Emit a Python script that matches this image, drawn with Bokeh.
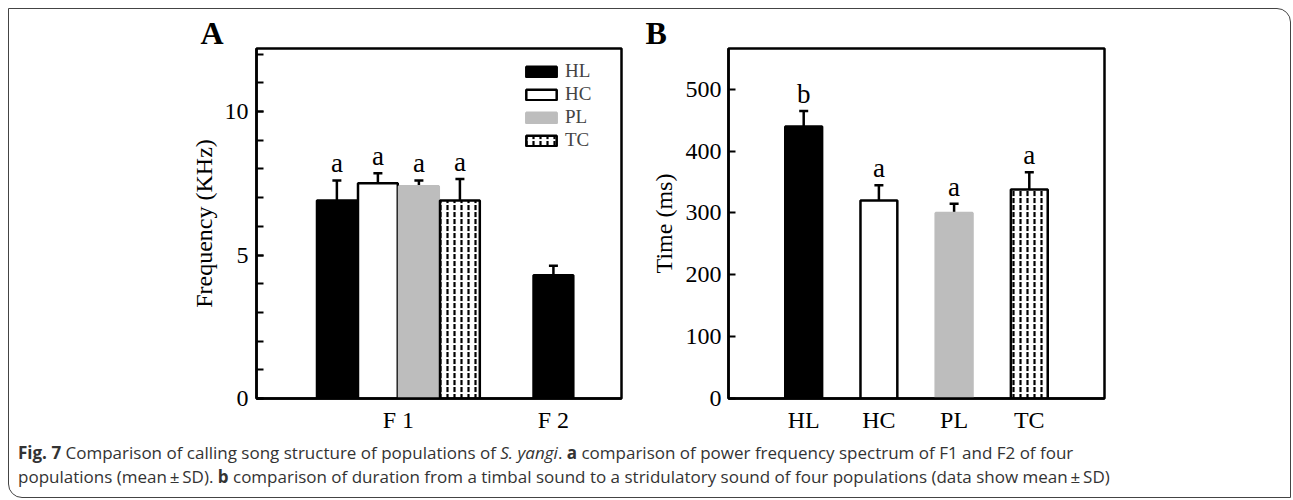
from bokeh.plotting import figure
from bokeh.models import (ColumnDataSource, Whisker, TeeHead, Range1d, FactorRange,
                          SingleIntervalTicker, FixedTicker, Div, Legend, LegendItem)
from bokeh.layouts import row, column
from bokeh.core.properties import value
from bokeh.embed import file_html
from bokeh.resources import INLINE

# ---------------- data ----------------
populations = ["HL", "HC", "PL", "TC"]
freq_groups = ["F 1", "F 2"]
f1_mean = [6.9, 7.5, 7.4, 6.9]
f1_sd = [0.7, 0.35, 0.2, 0.75]
f1_letters = ["a", "a", "a", "a"]
f2_mean = [4.3]            # only HL
f2_sd = [0.33]
time_mean = [440, 320, 300, 338]
time_sd = [25, 25, 15, 28]
time_letters = ["b", "a", "a", "a"]

# ---------------- styles ----------------
SERIF = "Liberation Serif"
fills = {"HL": "black", "HC": "white", "PL": "#bdbdbd", "TC": "white"}
lines = {"HL": "black", "HC": "black", "PL": "#bdbdbd", "TC": "black"}
hatches = {"HL": " ", "HC": " ", "PL": " ", "TC": "vertical_dash"}
LW = 2.5
BAR_W = 1.0
group_center = {"F 1": 3.46, "F 2": 7.24}
LETTER_OFFSET = -17


def style_fig(p, label, offset):
    p.toolbar_location = None
    p.xgrid.visible = False
    p.ygrid.visible = False
    p.outline_line_color = "black"
    p.outline_line_width = LW
    p.outline_line_alpha = 1
    p.background_fill_color = "white"
    p.border_fill_color = "white"
    for ax in (p.xaxis[0], p.yaxis[0]):
        ax.axis_line_width = LW
        ax.axis_line_color = "black"
        ax.major_label_text_font = SERIF
        ax.major_label_text_font_size = "24px"
        ax.major_label_text_color = "black"
        ax.axis_label_text_font = SERIF
        ax.axis_label_text_font_size = "24px"
        ax.axis_label_text_font_style = "normal"
        ax.axis_label_text_color = "black"
    p.xaxis.major_tick_in = 0
    p.xaxis.major_tick_out = 0
    p.xaxis.minor_tick_in = 0
    p.xaxis.minor_tick_out = 0
    p.yaxis.major_tick_in = 7
    p.yaxis.major_tick_out = 0
    p.yaxis.minor_tick_in = 7
    p.yaxis.minor_tick_out = 0
    p.yaxis.major_tick_line_width = 2
    p.yaxis.minor_tick_line_width = 2
    p.title.text = label
    p.title.text_font = SERIF
    p.title.text_font_size = "32px"
    p.title.text_font_style = "bold"
    p.title.text_color = "black"
    p.title.align = "left"
    p.title.offset = offset
    p.title.standoff = -5


# ---------------- panel A ----------------
pA = figure(width=615, height=431, output_backend="svg", toolbar_location=None,
            x_range=Range1d(0, 8.9), y_range=Range1d(0, 12.2),
            min_border_left=247, min_border_right=3, min_border_top=39, min_border_bottom=42)
style_fig(pA, "A", -56)

legend_items = []
for i, pop in enumerate(populations):
    xs = [group_center["F 1"] + (i - 1.5) * BAR_W]
    ms = [f1_mean[i]]
    sds = [f1_sd[i]]
    lets = [f1_letters[i]]
    if pop == "HL":
        xs.append(group_center["F 2"])
        ms.append(f2_mean[0])
        sds.append(f2_sd[0])
        lets.append("")
    src = ColumnDataSource(dict(x=xs, top=ms,
                                upper=[m + s for m, s in zip(ms, sds)],
                                lower=[m - s for m, s in zip(ms, sds)],
                                letter=lets))
    r = pA.vbar(x="x", top="top", width=BAR_W * 0.97, bottom=0, source=src,
                fill_color=fills[pop], line_color=lines[pop], line_width=LW,
                hatch_pattern=hatches[pop], hatch_color="black", hatch_scale=7,
                hatch_weight=2.2)
    legend_items.append(LegendItem(label=pop, renderers=[r]))
    w = Whisker(source=src, base="x", upper="upper", lower="lower",
                line_width=LW, line_color="black",
                upper_head=TeeHead(size=9, line_width=LW, line_color="black"),
                lower_head=TeeHead(size=9, line_width=LW, line_color="black"))
    pA.add_layout(w)
    pA.text(x="x", y="upper", text="letter", source=src, text_align="center",
            text_baseline="alphabetic", y_offset=LETTER_OFFSET, text_font=value(SERIF),
            text_font_size="27px", text_color="black")

legA = Legend(items=legend_items, location=(266, 247), orientation="vertical",
              padding=0, margin=0, spacing=1, glyph_width=38, glyph_height=13,
              label_height=20, label_standoff=5, label_text_font=SERIF,
              label_text_font_size="19px", border_line_alpha=0,
              background_fill_alpha=0)
pA.add_layout(legA)

pA.yaxis.ticker = SingleIntervalTicker(interval=5, num_minor_ticks=5)
pA.yaxis.axis_label = "Frequency (KHz)"
pA.yaxis.major_label_standoff = 8
pA.yaxis.axis_label_standoff = 5
pA.xaxis.ticker = FixedTicker(ticks=[group_center[g] for g in freq_groups])
pA.xaxis.major_label_overrides = {group_center[g]: g for g in freq_groups}
pA.xaxis.major_label_standoff = 8

# ---------------- panel B ----------------
pB = figure(width=496, height=431, output_backend="svg", toolbar_location=None,
            x_range=FactorRange(factors=populations, range_padding=0.5,
                                range_padding_units="absolute"),
            y_range=Range1d(0, 566),
            min_border_left=104, min_border_right=16, min_border_top=39, min_border_bottom=42)
style_fig(pB, "B", -83)

srcB = ColumnDataSource(dict(
    x=populations, top=time_mean,
    upper=[m + s for m, s in zip(time_mean, time_sd)],
    lower=[m - s for m, s in zip(time_mean, time_sd)],
    letter=time_letters,
    fill=[fills[p] for p in populations],
    line=[lines[p] for p in populations],
    hatch=[hatches[p] for p in populations]))
pB.vbar(x="x", top="top", width=0.49, bottom=0, source=srcB,
        fill_color="fill", line_color="line", line_width=LW,
        hatch_pattern="hatch", hatch_color="black", hatch_scale=7, hatch_weight=2.2)
pB.add_layout(Whisker(source=srcB, base="x", upper="upper", lower="lower",
                      line_width=LW, line_color="black",
                      upper_head=TeeHead(size=9, line_width=LW, line_color="black"),
                      lower_head=TeeHead(size=9, line_width=LW, line_color="black")))
pB.text(x="x", y="upper", text="letter", source=srcB, text_align="center",
        text_baseline="alphabetic", y_offset=LETTER_OFFSET, text_font=value(SERIF),
        text_font_size="27px", text_color="black")
pB.yaxis.ticker = SingleIntervalTicker(interval=100, num_minor_ticks=0)
pB.yaxis.axis_label = "Time (ms)"
pB.yaxis.major_label_standoff = 7
pB.yaxis.axis_label_standoff = 6
pB.xaxis.major_label_standoff = 8

# ---------------- caption ----------------
caption = Div(
    text=("<b>Fig. 7</b> Comparison of calling song structure of populations of <i>S. yangi</i>. "
          "<b>a</b> comparison of power frequency spectrum of F1 and F2 of four<br>"
          "populations (mean\u2009\u00b1\u2009SD). <b>b</b> comparison of duration from a timbal "
          "sound to a stridulatory sound of four populations (data show mean\u2009\u00b1\u2009SD)"),
    width=1250, height=50,
    styles={"font-family": "Open Sans", "font-size": "17px", "line-height": "24px",
            "color": "#333", "margin-left": "9px", "margin-top": "1px"})

layout = column(row(pA, pB), caption,
                styles={"border": "1.5px solid #444", "border-radius": "0 14px 0 14px",
                        "width": "1283px", "height": "490px", "box-sizing": "border-box",
                        "background": "white", "margin-left": "8px", "margin-top": "8px"})

open("out.html", "w").write(file_html(layout, INLINE))
